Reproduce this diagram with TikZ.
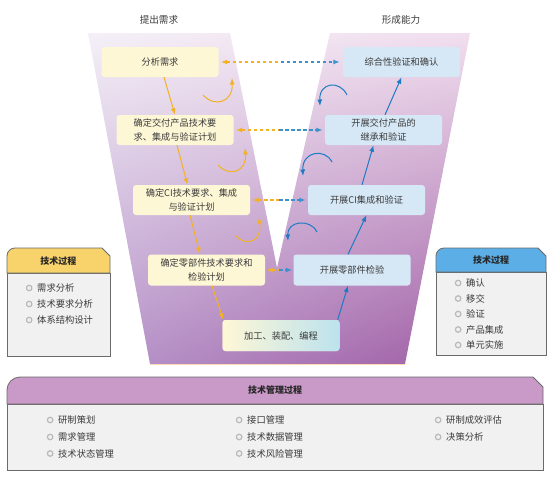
\documentclass[tikz,border=0pt]{standalone}
\usepackage{fontspec}
\setmainfont{Noto Sans CJK SC}
\usetikzlibrary{arrows.meta,calc,shadings}

\definecolor{vyel}{HTML}{F2B224}
\definecolor{vblu}{HTML}{1D7AC4}
\definecolor{dblu}{HTML}{3C92CC}
\definecolor{byel}{HTML}{FEF7D6}
\definecolor{bblu}{HTML}{D6E8F6}
\definecolor{jgblu}{HTML}{BCE2EE}
\definecolor{txt}{HTML}{3A3A3A}
\definecolor{hyel}{HTML}{F8D36B}
\definecolor{hblu}{HTML}{5CAEE6}
\definecolor{hpur}{HTML}{C999C7}
\definecolor{pbody}{HTML}{F1F1F1}
\definecolor{pline}{HTML}{6A6A6A}
\definecolor{vul}{HTML}{F4F0F7}
\definecolor{vur}{HTML}{F1DEEE}
\definecolor{vll}{HTML}{B898CC}
\definecolor{vlr}{HTML}{A05EA4}

\begin{document}
\begin{tikzpicture}[x=1pt,y=-1pt,>={Latex[length=6.5pt,width=5pt]},
reqbox/.style={fill=byel,rounded corners=3pt,align=center,minimum width=117pt,minimum height=30pt,
  inner sep=1pt,text=txt,font=\fontsize{9.2pt}{14pt}\selectfont},
capbox/.style={reqbox,fill=bblu},
ttl/.style={text=txt,font=\fontsize{9.6pt}{12pt}\selectfont},
hdr/.style={text=black!85,font=\fontsize{9pt}{11pt}\selectfont\bfseries},
dot/.style={circle,draw=gray!55,fill=gray!12,line width=1.2pt,minimum size=5.5pt,inner sep=0pt},
item/.style={anchor=west,inner sep=0pt,text=txt,font=\fontsize{9.3pt}{11pt}\selectfont,
  label={[dot,label distance=4.5pt]left:{}}},
godown/.style={->,vyel,line width=1pt},
goup/.style={->,vblu,line width=1pt},
ldash/.style={<-,vyel,line width=1.3pt,dash pattern=on 3.5pt off 2.5pt},
rdash/.style={->,dblu,line width=1.3pt,dash pattern=on 3.5pt off 2.5pt}]
\useasboundingbox (0,0) rectangle (550,477);

% V background
\shade[upper left=vul,upper right=vur,lower left=vll,lower right=vlr]
  (88,33) -- (230,33) -- (277,268) -- (330,33) -- (470,33) -- (405,364) -- (150,364) -- cycle;
\draw[orange!30,line width=1pt] (150,364) -- (405,364);

\node[ttl] (lefttitle) at (159,20) {提出需求};
\node[ttl] (righttitle) at (401,20) {形成能力};

% left arm
\node[reqbox] (ana) at (160,62) {分析需求};
\node[reqbox] (jf) at (175,130) {确定交付产品技术要\\求、集成与验证计划};
\node[reqbox] (ci) at (191.5,200) {确定CI技术要求、集成\\与验证计划};
\node[reqbox,minimum height=31pt] (lj) at (206.5,270) {确定零部件技术要求和\\检验计划};
% bottom
\node[reqbox,minimum height=31pt,left color=byel,right color=jgblu] (jg) at (281,335.5) {加工、装配、编程};
% right arm
\node[capbox] (zh) at (401.5,62) {综合性验证和确认};
\node[capbox] (jfv) at (383.5,130) {开展交付产品的\\继承和验证};
\node[capbox] (civ) at (366.5,200) {开展CI集成和验证};
\node[capbox,minimum height=31pt] (ljv) at (352,270) {开展零部件检验};

\draw[godown] ([xshift=4pt]ana.south) -- (jf.north);
\draw[godown] ([xshift=2pt]jf.south) -- ([xshift=-4pt]ci.north);
\draw[godown] ([xshift=-1.5pt]ci.south) -- ([xshift=-6.5pt]lj.north);
\draw[godown] ([xshift=5.5pt]lj.south) -- ([xshift=1pt]jg.north west);
\draw[goup] ([xshift=-2pt]jg.north east) -- ([xshift=-4pt]ljv.south);
\draw[goup] ([xshift=-4pt]ljv.north) -- (civ.south);
\draw[goup] ([xshift=-4.5pt]civ.north) -- ([xshift=-10pt]jfv.south);
\draw[goup] ([xshift=1.5pt]jfv.north) -- (zh.south);

% dashed links
\coordinate (m1) at ($(ana.east)!0.5!(zh.west)$);
\coordinate (m2) at ($(jf.east)!0.5!(jfv.west)$);
\coordinate (m3) at ($(ci.east)!0.5!(civ.west)$);
\coordinate (m4) at ($(lj.east)!0.5!(ljv.west)$);
\draw[ldash] ([xshift=2pt]ana.east) -- (m1);
\draw[rdash] (m1) -- ([xshift=-3pt]zh.west);
\draw[ldash] ([xshift=2pt]jf.east) -- (m2);
\draw[rdash] (m2) -- ([xshift=-2pt]jfv.west);
\draw[ldash] ([xshift=2pt]ci.east) -- (m3);
\draw[rdash] (m3) -- ([xshift=-2pt]civ.west);
\draw[ldash] ([xshift=1pt]lj.east) -- (m4);
\draw[rdash] (m4) -- ([xshift=-1pt]ljv.west);

% curls
\draw[godown] (203,95) .. controls (215,108) and (233,102) .. (232,78);
\draw[godown] (218,165) .. controls (230,178) and (247,171) .. (245,148);
\draw[godown] (235,235) .. controls (247,248) and (262,241) .. (259,217);
\draw[goup] (347,95) .. controls (340,80) and (319,82) .. (320,106);
\draw[goup] (332,162) .. controls (325,148) and (302,151) .. (303,176);
\draw[goup] (317,232) .. controls (310,218) and (287,221) .. (288,241);

% left panel
\filldraw[fill=pbody,draw=pline,line width=0.8pt] (7,273) rectangle (110,356);
\filldraw[fill=hyel,draw=pline,line width=0.8pt] (110,273) -- (7,273) [rounded corners=8pt] -- (7,248) [sharp corners] -- (102,248) -- (110,256) -- cycle;
\node[hdr] (lhdr) at (58.5,261) {技术过程};
\node[item] (l1) at (37,288) {需求分析};
\node[item] (l2) at (37,304) {技术要求分析};
\node[item] (l3) at (37,320) {体系结构设计};

% right panel
\filldraw[fill=pbody,draw=pline,line width=0.8pt] (436,272) rectangle (546,355);
\filldraw[fill=hblu,draw=pline,line width=0.8pt] (546,272) -- (436,272) [rounded corners=8pt] -- (436,248) [sharp corners] -- (538,248) -- (546,256) -- cycle;
\node[hdr] (rhdr) at (491,260) {技术过程};
\node[item] (r1) at (466,283) {确认};
\node[item] (r2) at (466,298.5) {移交};
\node[item] (r3) at (466,314) {验证};
\node[item] (r4) at (466,329.5) {产品集成};
\node[item] (r5) at (466,345) {单元实施};

% bottom panel
\filldraw[fill=pbody,draw=pline,line width=0.8pt] (7,404) rectangle (543,470);
\filldraw[fill=hpur,draw=pline,line width=0.8pt] (543,404) -- (7,404) [rounded corners=13pt] -- (7,377) [sharp corners] -- (533,377) -- (543,387) -- cycle;
\node[hdr] (bhdr) at (275,390.5) {技术管理过程};
\node[item] (b1) at (58,420) {研制策划};
\node[item] (b2) at (58,437) {需求管理};
\node[item] (b3) at (58,453.5) {技术状态管理};
\node[item] (b4) at (247,420) {接口管理};
\node[item] (b5) at (247,437) {技术数据管理};
\node[item] (b6) at (247,453.5) {技术风险管理};
\node[item] (b7) at (446,420) {研制成效评估};
\node[item] (b8) at (446,437) {决策分析};
\end{tikzpicture}
\end{document}
